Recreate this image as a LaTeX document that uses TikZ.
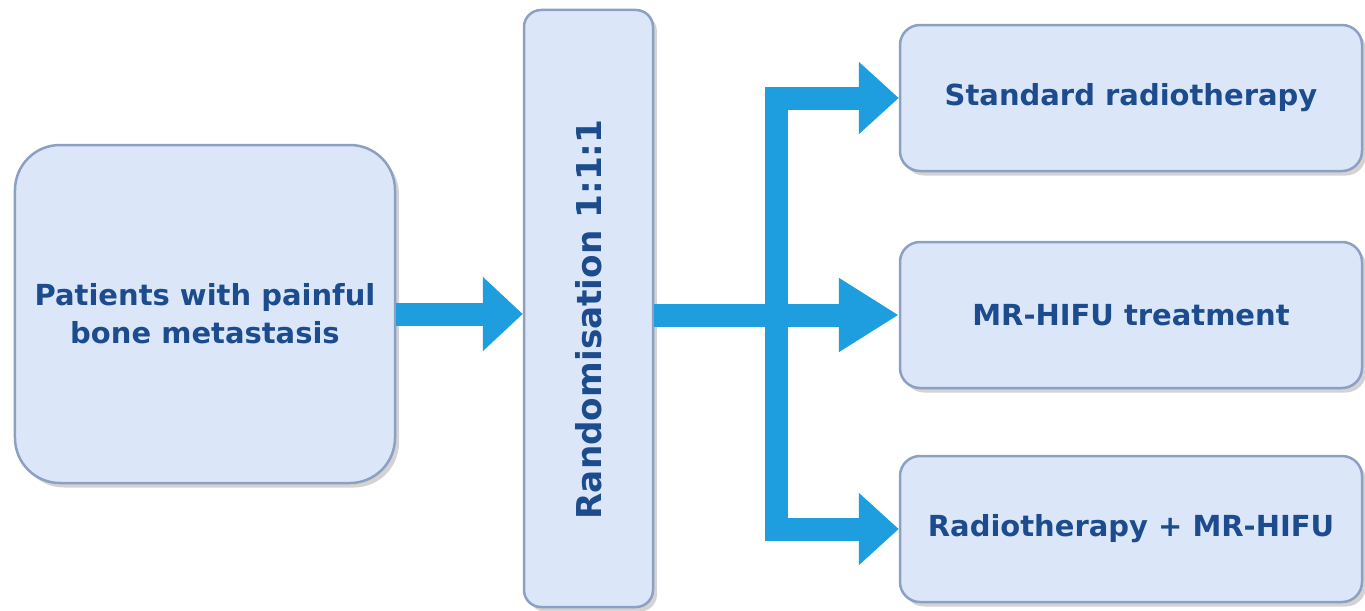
\documentclass[tikz,border=0pt]{standalone}
\usepackage{fontspec}
\setmainfont{DejaVu Sans}
\usetikzlibrary{arrows.meta,shadows}
\definecolor{boxfill}{RGB}{219,231,249}
\definecolor{boxline}{RGB}{140,160,196}
\definecolor{txtblue}{RGB}{28,76,142}
\definecolor{flowblue}{RGB}{30,158,222}
\begin{document}
\begin{tikzpicture}[x=0.2mm,y=-0.2mm]
    \tikzstyle{box} = [draw=boxline, fill=boxfill, line width=0.5mm,
    text=txtblue, font=\fontsize{16.5}{21.5}\selectfont\bfseries,
    align=center, inner sep=0pt,
    drop shadow={opacity=0.35, shadow xshift=0.8mm, shadow yshift=-0.9mm}];
    \tikzstyle{arm} = [box, minimum width=92.4mm, minimum height=29.2mm,
    rounded corners=4mm];
    \tikzstyle{flow} = [draw=flowblue, line width=4.6mm];
    \tikzstyle{tip} = [-{Triangle[length=8mm, width=14.4mm]}];

    \useasboundingbox (0,0) rectangle (1365,611);

    \node[box, minimum width=76mm, minimum height=67.6mm,
          rounded corners=9mm] (pat) at (205,314)
          {Patients with painful\\bone metastasis};
    \node[box, minimum width=25.8mm, minimum height=119.4mm,
          rounded corners=3.4mm, font=\fontsize{19.5}{24}\selectfont\bfseries]
          (rand) at (588.5,308.5)
          {\rotatebox{90}{Randomisation 1:1:1\hspace*{4.4mm}}};

    \node[arm] (std) at (1131,98){Standard radiotherapy};
    \node[arm] (mr) at (1131,315){MR-HIFU treatment};
    \node[arm] (both) at (1131,529){Radiotherapy + MR-HIFU};

    \coordinate (split) at (776,313);

    \draw[flow, tip] (pat.east |- 0,314) -- (rand.west |- 0,314);
    \draw[flow, -{Triangle[length=12mm, width=14mm]}]
              (rand.east |- mr.west) -- (mr.west);
    \draw[flow, line join=miter,
          {Triangle[length=8mm, width=14mm]}-{Triangle[length=8mm, width=14mm]}]
              (std.west) -- (split |- std.west)
              -- (split |- both.west) -- (both.west);

  \end{tikzpicture}
\end{document}
